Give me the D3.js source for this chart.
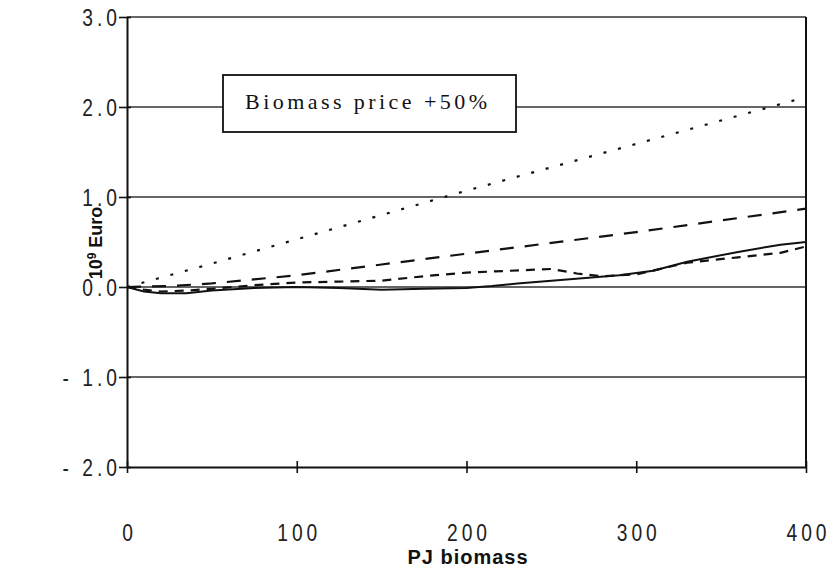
<!DOCTYPE html>
<html>
<head>
<meta charset="utf-8">
<script src="https://cdn.jsdelivr.net/npm/d3@7/dist/d3.min.js"></script>
<style>
  html, body { margin: 0; padding: 0; background: #fff; }
  svg { display: block; }
</style>
</head>
<body>
<svg id="chart" width="839" height="568"></svg>
<script>
// ---- data ----
const yTicks = [3.0, 2.0, 1.0, 0.0, -1.0, -2.0];
const yTickLabels = ["3.0", "2.0", "1.0", "0.0", "- 1.0", "- 2.0"];
const xTicks = [0, 100, 200, 300, 400];
const xTickLabels = ["0", "100", "200", "300", "400"];
const gridValues = [2.0, 1.0, 0.0, -1.0];

const dottedX = [0, 50, 100, 150, 200, 250, 300, 350, 400];
const dottedY = [0.0, 0.26, 0.53, 0.80, 1.07, 1.33, 1.59, 1.85, 2.11];

const longDashX = [0, 25, 50, 100, 150, 200, 250, 300, 350, 400];
const longDashY = [0.0, 0.01, 0.04, 0.13, 0.25, 0.37, 0.49, 0.61, 0.74, 0.87];

const medDashX = [0, 10, 20, 35, 50, 75, 100, 125, 150, 175, 200, 225, 250, 265, 280, 300, 330, 360, 385, 400];
const medDashY = [0.0, -0.03, -0.05, -0.04, -0.02, 0.02, 0.05, 0.06, 0.07, 0.12, 0.16, 0.18, 0.20, 0.15, 0.12, 0.14, 0.27, 0.33, 0.38, 0.45];

const solidX = [0, 10, 20, 35, 50, 75, 100, 125, 150, 175, 200, 215, 230, 250, 270, 290, 310, 330, 360, 385, 400];
const solidY = [0.0, -0.05, -0.07, -0.07, -0.04, -0.01, 0.0, -0.01, -0.03, -0.02, -0.01, 0.01, 0.04, 0.07, 0.10, 0.13, 0.18, 0.28, 0.39, 0.47, 0.50];

const legendText = "Biomass price +50%";
const yTitle = "10";
const yTitleSup = "9";
const yTitleRest = " Euro";
const xTitle = "PJ biomass";

// ---- layout ----
const svg = d3.select("#chart");
const x = d3.scaleLinear().domain([0, 400]).range([127, 806]);
const y = d3.scaleLinear().domain([-2, 3]).range([467, 17]);

const ink = "#111";
const labelFont = "'Liberation Sans', Arial, sans-serif";
const ls = 5;     // letter spacing before horizontal squeeze
const sx = 0.8;   // horizontal squeeze of tick labels

// grid lines
svg.append("g").selectAll("line").data(gridValues).join("line")
  .attr("x1", x(0)).attr("x2", x(400))
  .attr("y1", d => y(d)).attr("y2", d => y(d))
  .attr("stroke", "#333").attr("stroke-width", 1.6);

// frame top & right
svg.append("line").attr("x1", x(0)).attr("x2", x(400)).attr("y1", y(3)).attr("y2", y(3))
  .attr("stroke", "#333").attr("stroke-width", 1.6);
svg.append("line").attr("x1", x(400)).attr("x2", x(400)).attr("y1", y(3)).attr("y2", y(-2))
  .attr("stroke", ink).attr("stroke-width", 2);

// series
const line = d3.line().x(d => x(d[0])).y(d => y(d[1]));
function drawSeries(xs, ys, dash, width) {
  svg.append("path")
    .datum(xs.map((v, i) => [v, ys[i]]))
    .attr("d", line)
    .attr("fill", "none")
    .attr("stroke", ink)
    .attr("stroke-width", width)
    .attr("stroke-dasharray", dash);
}
drawSeries(solidX, solidY, null, 2);
drawSeries(medDashX, medDashY, "9,7", 2.2);
drawSeries(longDashX, longDashY, "14,11", 2.2);
drawSeries(dottedX, dottedY, "3,12", 2.2);

// y axis
const yAxis = d3.axisLeft(y).tickValues(yTicks).tickSize(0).tickFormat((d, i) => yTickLabels[i]);
const gy = svg.append("g").attr("transform", `translate(${x(0)},0)`).call(yAxis);
gy.select(".domain").attr("stroke", ink).attr("stroke-width", 2);
gy.selectAll(".tick line").remove();
gy.selectAll(".tick").append("line").attr("x1", -8).attr("x2", 4).attr("stroke", ink).attr("stroke-width", 1.6);
gy.selectAll(".tick text")
  .attr("transform", `scale(${sx},1)`)
  .attr("x", (-10 + ls * sx) / sx).attr("dy", "0.36em")
  .style("font-family", labelFont)
  .style("font-size", "24px")
  .style("letter-spacing", ls + "px")
  .attr("fill", "#222");

// x axis
const xAxis = d3.axisBottom(x).tickValues(xTicks).tickSize(0).tickFormat((d, i) => xTickLabels[i]);
const gx = svg.append("g").attr("transform", `translate(0,${y(-2)})`).call(xAxis);
gx.select(".domain").attr("stroke", ink).attr("stroke-width", 2);
gx.selectAll(".tick line").remove();
gx.selectAll(".tick").append("line").attr("y1", -6).attr("y2", 6).attr("stroke", ink).attr("stroke-width", 1.6);
gx.selectAll(".tick text")
  .attr("transform", `scale(${sx},1)`)
  .attr("y", 74).attr("dy", 0).attr("x", ls / 2)
  .style("font-family", labelFont)
  .style("font-size", "24px")
  .style("letter-spacing", ls + "px")
  .attr("fill", "#222");

// legend box
const lb = svg.append("g");
lb.append("rect").attr("x", 223).attr("y", 75).attr("width", 293).attr("height", 57)
  .attr("fill", "#fff").attr("stroke", ink).attr("stroke-width", 1.8);
lb.append("text").attr("x", 245).attr("y", 109)
  .attr("textLength", 242).attr("lengthAdjust", "spacing")
  .style("font-family", "'Liberation Serif', 'Times New Roman', serif")
  .style("font-size", "22px").attr("fill", ink)
  .text(legendText);

// y title
const yt = svg.append("text")
  .attr("transform", "translate(102,243) rotate(-90)")
  .attr("text-anchor", "middle")
  .style("font-family", labelFont)
  .style("font-size", "18px").style("font-weight", "bold").attr("fill", ink);
yt.append("tspan").text(yTitle);
yt.append("tspan").attr("dy", -6).style("font-size", "12px").text(yTitleSup);
yt.append("tspan").attr("dy", 6).text(yTitleRest);

// x title
svg.append("text").attr("x", 468).attr("y", 564).attr("text-anchor", "middle")
  .style("font-family", labelFont)
  .style("font-size", "20px").style("font-weight", "bold")
  .style("letter-spacing", "1px").attr("fill", ink)
  .text(xTitle);
</script>
</body>
</html>
